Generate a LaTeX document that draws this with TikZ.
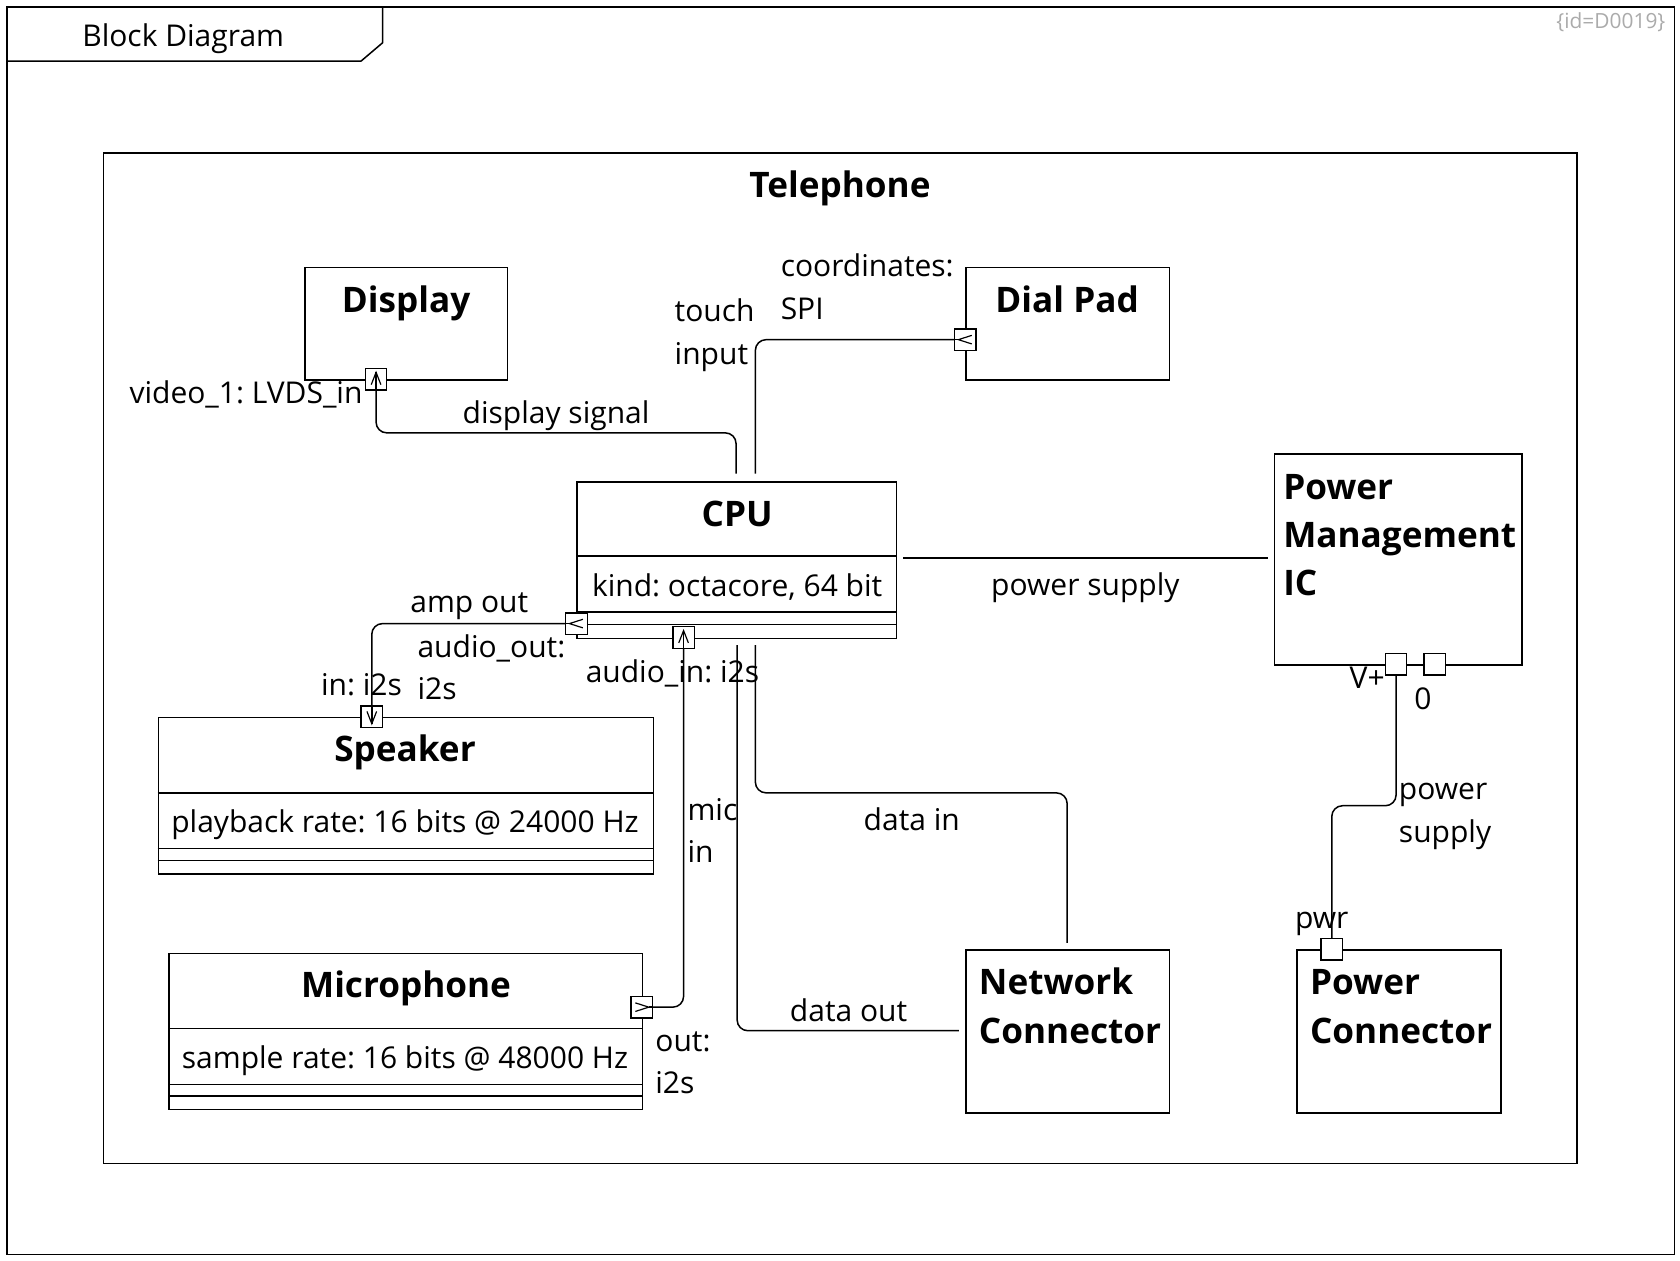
\documentclass[tikz,border=0pt]{standalone}
\usepackage{fontspec}
\setmainfont{Open Sans}
\frenchspacing
\begin{document}
\begin{tikzpicture}[x=1pt,y=-1pt,
  line width=1.4pt,
  box/.style={draw, line width=1.4pt, rectangle, anchor=north west, inner sep=0pt},
  ttl/.style={font=\fontsize{32.8}{45}\selectfont\bfseries, inner sep=0pt, anchor=base},
  ttlw/.style={font=\fontsize{32.8}{45}\selectfont\bfseries, inner sep=0pt, anchor=base west},
  lbl/.style={font=\fontsize{28}{39.5}\selectfont, inner sep=0pt, anchor=base},
  lblw/.style={font=\fontsize{28}{39.5}\selectfont, inner sep=0pt, anchor=base west, align=left},
  port/.style={draw, fill=white, line width=1.2pt, minimum size=20pt, inner sep=0pt, rectangle},
  chev/.style={line width=1.1pt},
  portup/.style={port, path picture={\draw[chev] ([shift={(-4.5pt,-5pt)}]path picture bounding box.center) -- ([shift={(0pt,6.5pt)}]path picture bounding box.center) -- ([shift={(4.5pt,-5pt)}]path picture bounding box.center);}},
  portdown/.style={port, path picture={\draw[chev] ([shift={(-4.5pt,5pt)}]path picture bounding box.center) -- ([shift={(0pt,-6.5pt)}]path picture bounding box.center) -- ([shift={(4.5pt,5pt)}]path picture bounding box.center);}},
  portleft/.style={port, path picture={\draw[chev] ([shift={(6pt,4pt)}]path picture bounding box.center) -- ([shift={(-6.5pt,0pt)}]path picture bounding box.center) -- ([shift={(6pt,-4pt)}]path picture bounding box.center);}},
  portright/.style={port, path picture={\draw[chev] ([shift={(-6pt,4pt)}]path picture bounding box.center) -- ([shift={(6.5pt,0pt)}]path picture bounding box.center) -- ([shift={(-6pt,-4pt)}]path picture bounding box.center);}},
  conn/.style={draw, line width=1.4pt, rounded corners=10pt}
]
\useasboundingbox (0,0) rectangle (1568,1176);
\fill[white] (0,0) rectangle (1568,1176);

% outer frame
\node[box, minimum width=1556pt, minimum height=1164pt] (frame) at (6,6) {};
\draw (6,57) -- (337,57) -- (357,40) -- (357,6);
\node[lbl] (ftitle) at (171,43) {Block Diagram};
\node[font=\fontsize{19.5}{24}\selectfont, text=black!33, inner sep=0pt, anchor=base east] (fid) at (1555,27) {\{id=D0019\}};

% Telephone
\node[box, minimum width=1375pt, minimum height=943pt] (tel) at (96,142) {};
\node[ttl] (teltitle) at (784,184) {Telephone};

% Display
\node[box, minimum width=189pt, minimum height=105pt] (display) at (284,249) {};
\node[ttl] (displaytitle) at (379,292) {Display};

% Dial Pad
\node[box, minimum width=190pt, minimum height=105pt] (dialpad) at (901,249) {};
\node[ttl] (dialtitle) at (996,292) {Dial Pad};

% CPU
\node[box, minimum width=298pt, minimum height=146pt] (cpu) at (538,449) {};
\node[ttl] (cputitle) at (688,491) {CPU};
\draw (538,519) -- (836,519);
\node[lbl] (cpukind) at (688,557) {kind: octacore, 64 bit};
\draw (538,571) -- (836,571);
\draw (538,583) -- (836,583);

% Speaker
\node[box, minimum width=462pt, minimum height=146pt] (speaker) at (147,669) {};
\node[ttl] (spktitle) at (378,711) {Speaker};
\draw (147,740) -- (609,740);
\node[lbl] (spkrate) at (378,777) {playback rate: 16 bits @ 24000 Hz};
\draw (147,792) -- (609,792);
\draw (147,803) -- (609,803);

% Microphone
\node[box, minimum width=442pt, minimum height=146pt] (micbox) at (157,889) {};
\node[ttl] (mictitle) at (379,931) {Microphone};
\draw (157,960) -- (599,960);
\node[lbl] (micrate) at (378,997) {sample rate: 16 bits @ 48000 Hz};
\draw (157,1012) -- (599,1012);
\draw (157,1023) -- (599,1023);

% Power Management IC
\node[box, minimum width=231pt, minimum height=197pt] (pmic) at (1189,423) {};
\node[ttlw] (pmic1) at (1197,466) {Power};
\node[ttlw] (pmic2) at (1197,511) {Management};
\node[ttlw] (pmic3) at (1197,556) {IC};

% Network Connector
\node[box, minimum width=190pt, minimum height=152pt] (netc) at (901,886) {};
\node[ttlw] (net1) at (913,928) {Network};
\node[ttlw] (net2) at (913,974) {Connector};

% Power Connector
\node[box, minimum width=190pt, minimum height=152pt] (pwrc) at (1210,886) {};
\node[ttlw] (pc1) at (1222,928) {Power};
\node[ttlw] (pc2) at (1222,974) {Connector};

% connector end points
\coordinate (cpuT1) at (687,442);
\coordinate (cpuT2) at (705,442);
\coordinate (cpuR) at (843,521);
\coordinate (pmicL) at (1183,521);
\coordinate (cpuB1) at (705,602);
\coordinate (cpuB2) at (688,602);
\coordinate (netT) at (996,880);
\coordinate (netL) at (895,962);

% connectors
\draw[conn] (351,349.5) -- (351,404) -- (687,404) -- (cpuT1);
\draw[conn] (891,317) -- (705,317) -- (cpuT2);
\draw (cpuR) -- (pmicL);
\draw[conn] (528,582) -- (347,582) -- (347,674.5);
\draw[conn] (609,940) -- (638,940) -- (638,590.5);
\draw[conn] (cpuB1) -- (705,740) -- (996,740) -- (netT);
\draw[conn] (cpuB2) -- (688,962) -- (netL);
\draw[conn] (1303,630) -- (1303,752) -- (1243,752) -- (1243,876);

% ports
\node[portup] (dport) at (351,354) {};
\node[portleft] (dpport) at (901,317) {};
\node[portleft] (cpuL) at (538,582) {};
\node[portup] (cpuBp) at (638,595) {};
\node[portdown] (spkport) at (347,669) {};
\node[portright] (micport) at (599,940) {};
\node[port] (pmV) at (1303,620) {};
\node[port] (pm0) at (1339,620) {};
\node[port] (pcport) at (1243,886) {};
\draw (pmV.east) -- (pm0.west);
\draw (dport.center) ++(0,-6.5) -- (dport.south);
\draw (cpuBp.center) ++(0,-6.5) -- (cpuBp.south);
\draw (spkport.center) ++(0,6.5) -- (spkport.north);
\draw (dpport.center) ++(-6.5,0) -- (dpport.west);
\draw (cpuL.center) ++(-6.5,0) -- (cpuL.west);
\draw (micport.center) ++(6.5,0) -- (micport.east);

% labels
\node[lbl, anchor=base east] (l1) at (339,377) {video\_1: LVDS\_in};
\node[lbl] (l2) at (519,395) {display signal};
\node[lblw] (l3) at (629,340) {touch\\input};
\node[lblw] (l4) at (728,298) {coordinates:\\SPI};
\node[lbl] (l5) at (1013,556) {power supply};
\node[lbl] (l6) at (438,572) {amp out};
\node[lblw] (l7) at (389,653) {audio\_out:\\i2s};
\node[lblw] (l8) at (299,649) {in: i2s};
\node[lblw] (l9) at (546,637) {audio\_in: i2s};
\node[lblw] (l10) at (641,805) {mic\\in};
\node[lblw] (l11) at (611,1021) {out:\\i2s};
\node[lbl] (l12) at (851,775) {data in};
\node[lbl] (l13) at (792,953) {data out};
\node[lblw] (l14) at (1305,786) {power\\supply};
\node[lblw] (l15) at (1259,643) {V+};
\node[lbl] (l16) at (1328,662) {0};
\node[lblw] (l17) at (1208,867) {pwr};
\end{tikzpicture}
\end{document}
